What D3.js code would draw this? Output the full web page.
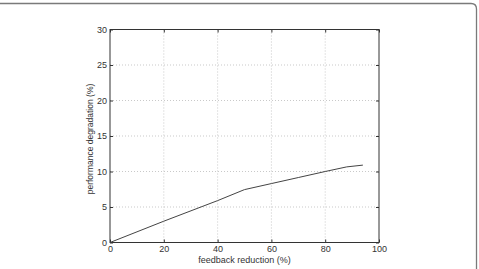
<!DOCTYPE html>
<html><head><meta charset="utf-8">
<script src="https://cdn.jsdelivr.net/npm/d3@7"></script>
<style>body{margin:0;background:#fff}svg{display:block}text{font-family:"Liberation Sans",Arial,sans-serif}</style>
</head><body>
<svg id="c" width="479" height="269"></svg>
<script>
const xValues = [0, 20, 40, 50, 60, 70, 80, 88, 94];
const yValues = [0, 3, 5.9, 7.45, 8.3, 9.15, 10, 10.65, 10.9];
const xTicks = [0, 20, 40, 60, 80, 100];
const yTicks = [0, 5, 10, 15, 20, 25, 30];
const xLabel = "feedback reduction (%)";
const yLabel = "performance degradation (%)";

const svg = d3.select("#c");
const L = 110, R = 379, T = 29.5, B = 242.5;
const x = d3.scaleLinear().domain([0, 100]).range([L, R]);
const y = d3.scaleLinear().domain([0, 30]).range([B, T]);

// outer frame
svg.append("path")
  .attr("d", `M0,3.5 L471,3.5 Q476.5,3.5 476.5,9 L476.5,269`)
  .attr("fill", "none").attr("stroke", "#7a7a7a").attr("stroke-width", 1.3);

const g = svg.append("g");
// grid
g.selectAll(".gx").data(xTicks.slice(1, -1)).enter().append("line")
  .attr("x1", d => x(d)).attr("x2", d => x(d)).attr("y1", T).attr("y2", B)
  .attr("stroke", "#bbb").attr("stroke-width", 0.8).attr("stroke-dasharray", "1,2");
g.selectAll(".gy").data(yTicks.slice(1, -1)).enter().append("line")
  .attr("y1", d => y(d)).attr("y2", d => y(d)).attr("x1", L).attr("x2", R)
  .attr("stroke", "#bbb").attr("stroke-width", 0.8).attr("stroke-dasharray", "1,2");

// axes with inner ticks
const tick = 3;
const ax = d3.axisBottom(x).tickValues(xTicks).tickSize(-tick).tickPadding(3).tickFormat(d3.format("d"));
const ay = d3.axisLeft(y).tickValues(yTicks).tickSize(-tick).tickPadding(3).tickFormat(d3.format("d"));
const axT = d3.axisTop(x).tickValues(xTicks).tickSize(-tick).tickFormat("");
const ayR = d3.axisRight(y).tickValues(yTicks).tickSize(-tick).tickFormat("");
function style(s){ s.select(".domain").remove(); s.selectAll("line").attr("stroke","#333"); s.selectAll("text").attr("fill","#333").style("font-size","9px"); }
g.append("g").attr("transform", `translate(0,${B})`).call(ax).call(style);
g.append("g").attr("transform", `translate(${L},0)`).call(ay).call(style);
g.append("g").attr("transform", `translate(0,${T})`).call(axT).call(style);
g.append("g").attr("transform", `translate(${R},0)`).call(ayR).call(style);

g.append("rect").attr("x", L).attr("y", T).attr("width", R - L).attr("height", B - T)
  .attr("fill", "none").attr("stroke", "#333").attr("stroke-width", 1);

// line
const pts = xValues.map((v, i) => [v, yValues[i]]);
g.append("path").datum(pts)
  .attr("d", d3.line().x(d => x(d[0])).y(d => y(d[1])))
  .attr("fill", "none").attr("stroke", "#444").attr("stroke-width", 1);

svg.append("text").attr("x", 244.5).attr("y", 262.5).attr("text-anchor", "middle")
  .attr("fill", "#333").style("font-size", "9px").text(xLabel);
svg.append("text").attr("transform", `translate(93,139) rotate(-90)`).attr("text-anchor", "middle")
  .attr("fill", "#333").style("font-size", "8.5px").text(yLabel);
</script>
</body></html>
